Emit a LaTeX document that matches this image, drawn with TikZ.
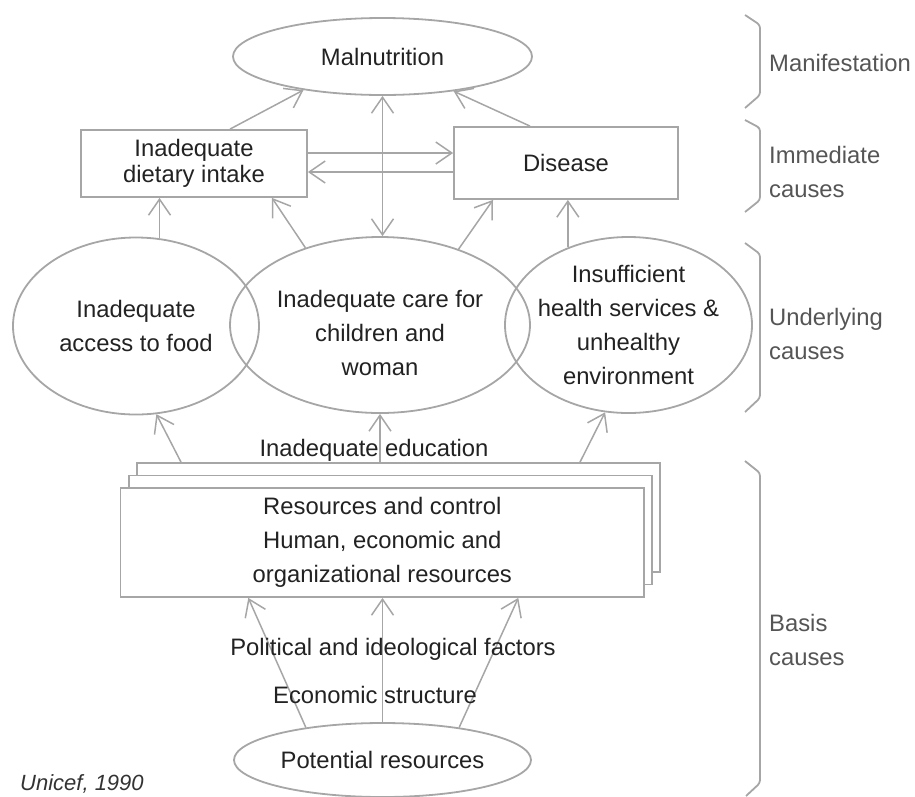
\documentclass[tikz,border=0pt]{standalone}
\usepackage{fontspec}
\setmainfont{Liberation Sans}
\usetikzlibrary{shapes.geometric,arrows.meta,calc}
\definecolor{linec}{HTML}{A6A6A6}
\definecolor{txtc}{HTML}{222222}
\definecolor{sidec}{HTML}{555555}
\definecolor{srcc}{HTML}{333333}
\begin{document}
\begin{tikzpicture}[x=1pt,y=-1pt,
  every node/.style={inner sep=0pt, text=txtc, font=\fontsize{23.8}{34}\selectfont},
  oval/.style={ellipse, draw=linec, line width=1.8pt, align=center},
  box/.style={rectangle, draw=linec, line width=1.8pt, fill=white, align=center},
  barb/.tip={Straight Barb[length=16pt,width=22pt]},
  arr/.style={draw=linec, line width=1.5pt, -barb},
  twoway/.style={draw=linec, line width=1.5pt, barb-barb},
  bracket/.style={draw=linec, line width=1.8pt, rounded corners=3pt},
  side/.style={anchor=west, align=left, text=sidec},
  plain/.style={anchor=base}
]
\useasboundingbox (0,0) rectangle (915,796);

% --- immediate level
\node[oval, minimum width=299pt, minimum height=77pt] (mal) at (382.5,56.5) {Malnutrition};
\node[box, minimum width=226pt, minimum height=67pt, font=\fontsize{23.8}{26}\selectfont] (diet) at (194,163.5) {Inadequate\\dietary intake};
\node[box, minimum width=224pt, minimum height=72pt] (dis) at (566,163) {Disease};

% --- underlying level
\node[oval, minimum width=246pt, minimum height=177pt] (access) at (136,326) {Inadequate\\access to food};
\node[oval, minimum width=300pt, minimum height=176pt,
      label={[name=caretxt, align=center, yshift=-8pt]center:{Inadequate care for\\children and\\woman}}] (care) at (380,325) {};
\node[oval, minimum width=247pt, minimum height=176pt, inner xsep=-4pt] (health) at (628.5,325) {Insufficient\\health services \&\\unhealthy\\environment};

% --- basic level: stacked resource sheets
\node[box, minimum width=523.5pt, minimum height=109pt] (resB) at (398.5,517.5) {};
\node[box, minimum width=523.5pt, minimum height=109pt] (resM) at (390.5,530) {};
\node[box, minimum width=523.5pt, minimum height=109pt] (res) at (382.3,542.5) {Resources and control\\Human, economic and\\organizational resources};
\node[oval, minimum width=297pt, minimum height=74pt] (pot) at (382.5,760) {Potential resources};

% --- connectors
\draw[arr] ([xshift=36pt]diet.north) -- (mal.203);
\draw[arr] ([xshift=-36pt]dis.north) -- (mal.334);
\draw[twoway] (mal.south) -- (mal.south |- care.north);
\draw[arr] ([yshift=10.5pt]diet.east) -- ([yshift=10.5pt]diet.east -| dis.west);
\draw[arr] ([yshift=-9pt]dis.west) -- ([yshift=-9pt]dis.west -| diet.east);

\draw[arr] (access.75) -- (access.75 |- diet.south);
\draw[arr] (care.134) -- ([xshift=78pt]diet.south);
\draw[arr] (care.44) -- ([xshift=-73pt]dis.south);
\draw[arr] (health.128) -- (health.128 |- dis.south);

\draw[arr] ([xshift=-217.5pt]resB.north) -- (access.283);
\draw[arr] (care.south |- resB.north) -- (care.south);
\draw[arr] ([xshift=181.5pt]resB.north) -- (health.255);

\draw[arr] (pot.157) -- ([xshift=-134pt]res.south);
\draw[arr] (pot.north) -- (pot.north |- res.south);
\draw[arr] (pot.23) -- ([xshift=136pt]res.south);

% --- free labels
\node[plain] (edu) at (374,456.5) {Inadequate education};
\node[plain] (pol) at (393,655.5) {Political and ideological factors};
\node[plain] (eco) at (375,703.5) {Economic structure};
\node[anchor=base west, text=srcc, font=\itshape\fontsize{22}{26}\selectfont] (src) at (20,790) {Unicef, 1990};

% --- level brackets and their names
\draw[bracket] (745,15) -- (760,25) -- (760,95) -- (745,108);
\draw[bracket] (745,120) -- (760,128) -- (760,200) -- (745,212);
\draw[bracket] (745,243) -- (760,254) -- (760,398) -- (745,412);
\draw[bracket] (745,461) -- (760,473) -- (760,783) -- (746,796);

\node[side, anchor=base west] (lman) at (769,71.5) {Manifestation};
\node[side] (limm) at (769,172) {Immediate\\causes};
\node[side] (lund) at (769,334) {Underlying\\causes};
\node[side] (lbas) at (769,640) {Basis\\causes};
\end{tikzpicture}
\end{document}
